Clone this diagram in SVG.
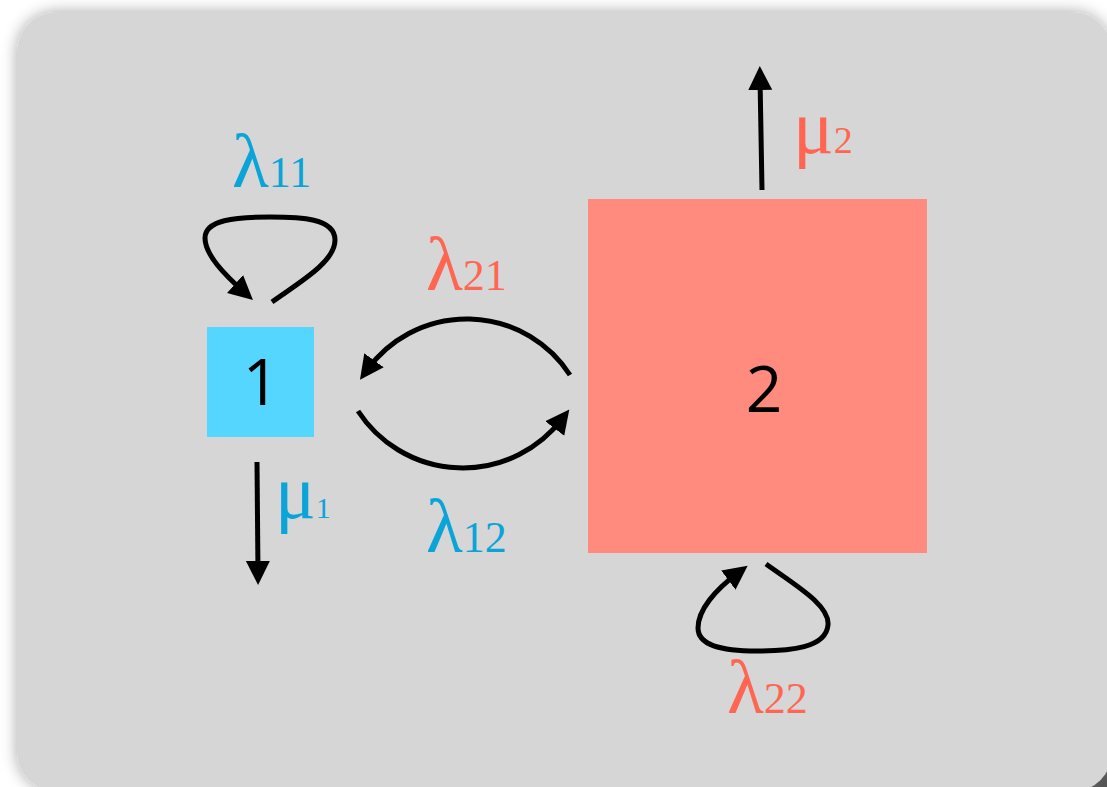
<svg xmlns="http://www.w3.org/2000/svg" width="1107" height="787" viewBox="0 0 1107 787">
<defs>
<filter id="shadow" x="-5%" y="-5%" width="110%" height="110%">
<feGaussianBlur in="SourceAlpha" stdDeviation="8"/>
<feComponentTransfer><feFuncA type="linear" slope="0.35"/></feComponentTransfer>
<feMerge><feMergeNode/><feMergeNode in="SourceGraphic"/></feMerge>
</filter>
<radialGradient id="corner" cx="1107" cy="787" r="40" gradientUnits="userSpaceOnUse">
<stop offset="0" stop-color="#555"/>
<stop offset="1" stop-color="#999"/>
</radialGradient>
<marker id="head" markerUnits="userSpaceOnUse" markerWidth="26" markerHeight="26" viewBox="0 0 26 26" refX="12" refY="13" orient="auto">
<path d="M0,1 L24,13 L0,25 z" fill="#000"/>
</marker>
</defs>
<style>
.conn{fill:none;stroke:#000;stroke-width:5;marker-end:url(#head)}
.num{font-family:"Open Sans","DejaVu Sans",sans-serif;font-size:64px;fill:#000;text-anchor:middle}
text.lbl, text.lbl tspan{font-family:"Liberation Serif","DejaVu Serif",serif}
.big{font-size:76px}
.sub{font-size:44px}
.blue{fill:#0aa4d8}
.red{fill:#ff6652}
</style>
<rect x="1062" y="742" width="45" height="45" fill="url(#corner)"/>
<rect x="17" y="12" width="1095" height="780" rx="40" ry="40" fill="#d6d6d6" filter="url(#shadow)"/>
<g id="node1">
<rect x="207" y="327" width="107" height="110" fill="#55d6ff"/>
<text class="num" x="261" y="405">1</text>
</g>
<g id="node2">
<rect x="588" y="199" width="339" height="354" fill="#ff8b7f"/>
<text class="num" x="764" y="412">2</text>
</g>
<g id="connectors">
<path class="conn" d="M272,302 C300,282 335,262 335,240 C335,218 300,217 270,217 C235,217 205,220 205,238 C205,255 225,275 244,292"/>
<path class="conn" d="M570,375 A123,123 0 0 0 367,370"/>
<path class="conn" d="M358,411 A125,125 0 0 0 562,419"/>
<path class="conn" d="M766,564 C795,585 830,605 828,625 C826,648 790,651 757,651 C720,651 698,645 698,628 C698,610 715,590 738,573"/>
<path class="conn" d="M257,462 L258,573"/>
<path class="conn" d="M762,190 L760,78"/>
</g>
<g id="labels">
<text class="lbl blue" x="232" y="187"><tspan class="big">λ</tspan><tspan class="sub">11</tspan></text>
<text class="lbl red" x="426" y="290"><tspan class="big">λ</tspan><tspan class="sub">21</tspan></text>
<text class="lbl blue" x="426" y="552"><tspan class="big">λ</tspan><tspan class="sub">12</tspan></text>
<text class="lbl red" x="727" y="713"><tspan class="big">λ</tspan><tspan class="sub">22</tspan></text>
<text class="lbl blue" x="275" y="518"><tspan class="big">μ</tspan><tspan style="font-size:30px">1</tspan></text>
<text class="lbl red" x="793" y="153"><tspan class="big">μ</tspan><tspan style="font-size:38px">2</tspan></text>
</g>
</svg>
